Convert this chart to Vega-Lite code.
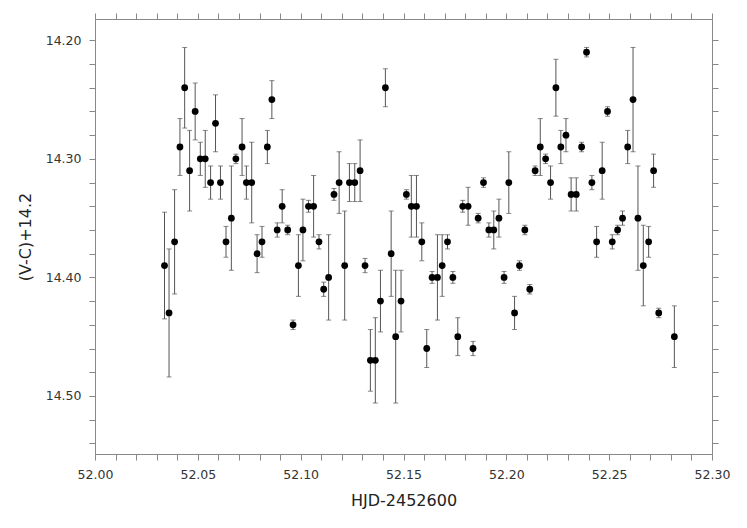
{
  "$schema": "https://vega.github.io/schema/vega-lite/v6.json",
  "width": 617,
  "height": 435,
  "autosize": {"type": "none"},
  "padding": {"left": 95, "top": 19, "right": 35, "bottom": 74},
  "background": "white",
  "config": {
    "view": {"stroke": null},
    "axis": {
      "domainColor": "#888888",
      "tickColor": "#888888",
      "labelColor": "#333333",
      "titleColor": "#222222",
      "labelFont": "DejaVu Sans",
      "titleFont": "DejaVu Sans",
      "labelFontSize": 12.5,
      "titleFontSize": 16,
      "titleFontWeight": "normal",
      "grid": false,
      "tickSize": 6
    }
  },
  "data": {
    "values": [
      {"t": 52.0338, "mag": 14.39, "err": 0.045},
      {"t": 52.0360, "mag": 14.43, "err": 0.054},
      {"t": 52.0387, "mag": 14.37, "err": 0.044},
      {"t": 52.0413, "mag": 14.29, "err": 0.024},
      {"t": 52.0436, "mag": 14.24, "err": 0.034},
      {"t": 52.0460, "mag": 14.31, "err": 0.034},
      {"t": 52.0487, "mag": 14.26, "err": 0.024},
      {"t": 52.0512, "mag": 14.30, "err": 0.014},
      {"t": 52.0536, "mag": 14.30, "err": 0.024},
      {"t": 52.0562, "mag": 14.32, "err": 0.014},
      {"t": 52.0586, "mag": 14.27, "err": 0.024},
      {"t": 52.0610, "mag": 14.32, "err": 0.014},
      {"t": 52.0637, "mag": 14.37, "err": 0.013},
      {"t": 52.0663, "mag": 14.35, "err": 0.044},
      {"t": 52.0685, "mag": 14.30, "err": 0.004},
      {"t": 52.0715, "mag": 14.29, "err": 0.024},
      {"t": 52.0736, "mag": 14.32, "err": 0.014},
      {"t": 52.0762, "mag": 14.32, "err": 0.034},
      {"t": 52.0788, "mag": 14.38, "err": 0.016},
      {"t": 52.0812, "mag": 14.37, "err": 0.013},
      {"t": 52.0838, "mag": 14.29, "err": 0.014},
      {"t": 52.0860, "mag": 14.25, "err": 0.016},
      {"t": 52.0886, "mag": 14.36, "err": 0.006},
      {"t": 52.0910, "mag": 14.34, "err": 0.014},
      {"t": 52.0937, "mag": 14.36, "err": 0.004},
      {"t": 52.0963, "mag": 14.44, "err": 0.004},
      {"t": 52.0989, "mag": 14.39, "err": 0.026},
      {"t": 52.1011, "mag": 14.36, "err": 0.026},
      {"t": 52.1038, "mag": 14.34, "err": 0.005},
      {"t": 52.1063, "mag": 14.34, "err": 0.026},
      {"t": 52.1089, "mag": 14.37, "err": 0.006},
      {"t": 52.1112, "mag": 14.41, "err": 0.006},
      {"t": 52.1136, "mag": 14.40, "err": 0.036},
      {"t": 52.1162, "mag": 14.33, "err": 0.005},
      {"t": 52.1187, "mag": 14.32, "err": 0.026},
      {"t": 52.1214, "mag": 14.39, "err": 0.046},
      {"t": 52.1237, "mag": 14.32, "err": 0.016},
      {"t": 52.1263, "mag": 14.32, "err": 0.016},
      {"t": 52.1289, "mag": 14.31, "err": 0.026},
      {"t": 52.1313, "mag": 14.39, "err": 0.006},
      {"t": 52.1339, "mag": 14.47, "err": 0.026},
      {"t": 52.1363, "mag": 14.47, "err": 0.036},
      {"t": 52.1388, "mag": 14.42, "err": 0.026},
      {"t": 52.1412, "mag": 14.24, "err": 0.016},
      {"t": 52.1440, "mag": 14.38, "err": 0.036},
      {"t": 52.1462, "mag": 14.45, "err": 0.056},
      {"t": 52.1488, "mag": 14.42, "err": 0.026},
      {"t": 52.1514, "mag": 14.33, "err": 0.004},
      {"t": 52.1538, "mag": 14.34, "err": 0.026},
      {"t": 52.1563, "mag": 14.34, "err": 0.026},
      {"t": 52.1589, "mag": 14.37, "err": 0.016},
      {"t": 52.1613, "mag": 14.46, "err": 0.016},
      {"t": 52.1639, "mag": 14.40, "err": 0.005},
      {"t": 52.1665, "mag": 14.40, "err": 0.036},
      {"t": 52.1688, "mag": 14.39, "err": 0.026},
      {"t": 52.1714, "mag": 14.37, "err": 0.006},
      {"t": 52.1740, "mag": 14.40, "err": 0.005},
      {"t": 52.1764, "mag": 14.45, "err": 0.016},
      {"t": 52.1788, "mag": 14.34, "err": 0.005},
      {"t": 52.1814, "mag": 14.34, "err": 0.016},
      {"t": 52.1838, "mag": 14.46, "err": 0.006},
      {"t": 52.1863, "mag": 14.35, "err": 0.004},
      {"t": 52.1889, "mag": 14.32, "err": 0.004},
      {"t": 52.1915, "mag": 14.36, "err": 0.006},
      {"t": 52.1939, "mag": 14.36, "err": 0.016},
      {"t": 52.1964, "mag": 14.35, "err": 0.016},
      {"t": 52.1989, "mag": 14.40, "err": 0.005},
      {"t": 52.2012, "mag": 14.32, "err": 0.026},
      {"t": 52.2040, "mag": 14.43, "err": 0.014},
      {"t": 52.2064, "mag": 14.39, "err": 0.004},
      {"t": 52.2090, "mag": 14.36, "err": 0.004},
      {"t": 52.2114, "mag": 14.41, "err": 0.004},
      {"t": 52.2140, "mag": 14.31, "err": 0.004},
      {"t": 52.2165, "mag": 14.29, "err": 0.024},
      {"t": 52.2191, "mag": 14.30, "err": 0.004},
      {"t": 52.2215, "mag": 14.32, "err": 0.014},
      {"t": 52.2241, "mag": 14.24, "err": 0.024},
      {"t": 52.2265, "mag": 14.29, "err": 0.014},
      {"t": 52.2290, "mag": 14.28, "err": 0.014},
      {"t": 52.2315, "mag": 14.33, "err": 0.014},
      {"t": 52.2340, "mag": 14.33, "err": 0.014},
      {"t": 52.2366, "mag": 14.29, "err": 0.004},
      {"t": 52.2390, "mag": 14.21, "err": 0.004},
      {"t": 52.2416, "mag": 14.32, "err": 0.006},
      {"t": 52.2439, "mag": 14.37, "err": 0.013},
      {"t": 52.2466, "mag": 14.31, "err": 0.024},
      {"t": 52.2492, "mag": 14.26, "err": 0.004},
      {"t": 52.2515, "mag": 14.37, "err": 0.006},
      {"t": 52.2541, "mag": 14.36, "err": 0.004},
      {"t": 52.2565, "mag": 14.35, "err": 0.006},
      {"t": 52.2590, "mag": 14.29, "err": 0.014},
      {"t": 52.2616, "mag": 14.25, "err": 0.044},
      {"t": 52.2640, "mag": 14.35, "err": 0.044},
      {"t": 52.2666, "mag": 14.39, "err": 0.034},
      {"t": 52.2692, "mag": 14.37, "err": 0.013},
      {"t": 52.2716, "mag": 14.31, "err": 0.014},
      {"t": 52.2741, "mag": 14.43, "err": 0.004},
      {"t": 52.2817, "mag": 14.45, "err": 0.026}
    ]
  },
  "layer": [
    {
      "mark": {"type": "errorbar", "ticks": {"size": 5, "color": "#555555"}, "color": "#555555", "thickness": 1},
      "encoding": {
        "x": {
          "field": "t", "type": "quantitative",
          "scale": {"domain": [52.0, 52.3], "nice": false, "zero": false},
          "axis": {"orient": "top", "title": null, "labels": false,
                   "values": [52,52.01,52.02,52.03,52.04,52.05,52.06,52.07,52.08,52.09,52.1,52.11,52.12,52.13,52.14,52.15,52.16,52.17,52.18,52.19,52.2,52.21,52.22,52.23,52.24,52.25,52.26,52.27,52.28,52.29,52.3]}
        },
        "y": {
          "field": "mag", "type": "quantitative",
          "scale": {"domain": [14.182, 14.549], "reverse": true, "nice": false, "zero": false},
          "axis": {"orient": "right", "title": null, "labels": false,
                   "values": [14.2,14.22,14.24,14.26,14.28,14.3,14.32,14.34,14.36,14.38,14.4,14.42,14.44,14.46,14.48,14.5,14.52,14.54]}
        },
        "yError": {"field": "err"}
      }
    },
    {
      "mark": {"type": "point", "filled": true, "color": "black", "size": 46, "opacity": 1},
      "encoding": {
        "x": {
          "field": "t", "type": "quantitative",
          "axis": {"orient": "bottom", "title": "HJD-2452600", "labelFlush": false, "labelOverlap": false,
                   "labelPadding": 8, "titlePadding": 12,
                   "values": [52,52.01,52.02,52.03,52.04,52.05,52.06,52.07,52.08,52.09,52.1,52.11,52.12,52.13,52.14,52.15,52.16,52.17,52.18,52.19,52.2,52.21,52.22,52.23,52.24,52.25,52.26,52.27,52.28,52.29,52.3],
                   "labelExpr": "abs(datum.value*20 - round(datum.value*20)) < 0.01 ? format(datum.value, '.2f') : ''"}
        },
        "y": {
          "field": "mag", "type": "quantitative",
          "axis": {"orient": "left", "title": "(V-C)+14.2", "labelFlush": false, "labelOverlap": false,
                   "labelPadding": 8, "titlePadding": 12,
                   "values": [14.2,14.22,14.24,14.26,14.28,14.3,14.32,14.34,14.36,14.38,14.4,14.42,14.44,14.46,14.48,14.5,14.52,14.54],
                   "labelExpr": "abs(datum.value*10 - round(datum.value*10)) < 0.01 ? format(datum.value, '.2f') : ''"}
        }
      }
    }
  ],
  "resolve": {"axis": {"x": "independent", "y": "independent"}}
}
